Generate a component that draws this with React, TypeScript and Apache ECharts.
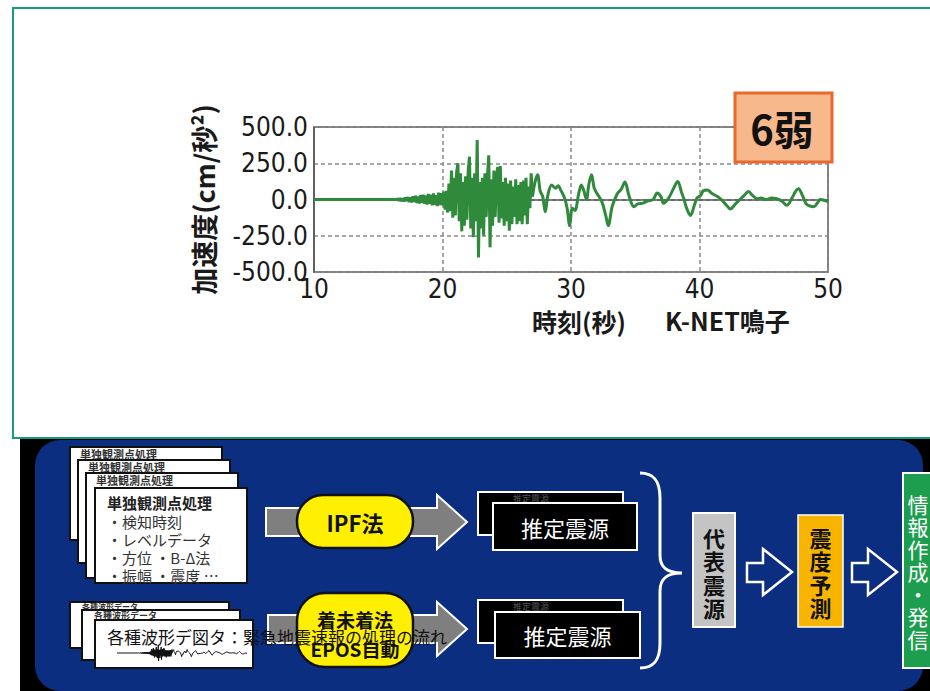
import React, { useEffect, useRef } from "react";
import * as echarts from "echarts";

// ---- data: K-NET 鳴子 acceleration record (time s, acceleration cm/s²) ----
const preEvent: [number, number][] = [
  [10, 0], [16.4, 0],
];
const pWave: [number, number][] = [
  [16.5, 5], [16.6, -8], [16.7, 10], [16.8, -12], [16.9, 9], [17.0, -14], [17.1, 15], [17.2, -11],
  [17.3, 17], [17.4, -18], [17.5, 14], [17.6, -20], [17.7, 22], [17.8, -17], [17.9, 25], [18.0, -24],
  [18.1, 20], [18.2, -28], [18.3, 30], [18.4, -22], [18.5, 33], [18.6, -30], [18.7, 27], [18.8, -35],
  [18.9, 38], [19.0, -29], [19.1, 34], [19.2, -40], [19.3, 42], [19.4, -36], [19.5, 30], [19.6, -45],
  [19.7, 48], [19.8, -38], [19.9, 44],
];
const sWave: [number, number][] = [
  [20.0, -40], [20.1, 55], [20.2, -70], [20.3, 60], [20.4, -90], [20.5, 110], [20.6, -80], [20.7, 200],
  [20.8, -125], [20.9, 150], [21.0, -110], [21.1, 190], [21.2, 250], [21.3, -150], [21.4, 180], [21.5, -220],
  [21.6, 120], [21.7, -180], [21.8, 160], [21.9, -140], [22.0, 200], [22.1, 295], [22.2, -200], [22.3, 150],
  [22.4, -260], [22.5, 180], [22.6, -150], [22.7, 410], [22.8, -400], [22.9, 120], [23.0, -200], [23.1, 150],
  [23.2, -250], [23.3, 180], [23.4, -120], [23.5, 160], [23.6, 305], [23.7, -330], [23.8, 140], [23.9, -180],
  [24.0, 200], [24.1, -120], [24.2, 160], [24.3, 225], [24.4, -160], [24.5, 230], [24.6, -130], [24.7, 120],
  [24.8, -180], [24.9, 150], [25.0, -150], [25.1, 110], [25.2, -215], [25.3, 130], [25.4, -170], [25.5, 90],
  [25.6, -120], [25.7, 140], [25.8, -170], [25.9, 100], [26.0, -150], [26.1, 120], [26.2, -170], [26.3, 130],
  [26.4, -110], [26.5, 150], [26.6, -170], [26.7, 90], [26.8, -60], [26.9, 180], [27.0, 20],
];
const coda: [number, number][] = [
  [27.2, 120], [27.4, 170], [27.6, 60], [27.8, 20], [28.0, -85], [28.2, 30], [28.5, 100], [28.8, 77],
  [29.0, 95], [29.2, 65], [29.5, 10], [29.7, -60], [29.9, -180], [30.1, -60], [30.3, -75], [30.6, 40],
  [30.8, 100], [31.0, 60], [31.2, 0], [31.4, 110], [31.6, 170], [31.8, 80], [32.0, 45], [32.4, -15],
  [32.7, -110], [32.9, -180], [33.2, -50], [33.6, 40], [33.9, 70], [34.2, 120], [34.5, 30], [34.9, -50],
  [35.2, -30], [35.6, -25], [36.0, -10], [36.4, 0], [36.7, 45], [37.0, 20], [37.2, -25], [37.6, 10],
  [38.0, 80], [38.3, 125], [38.6, 50], [38.8, 0], [39.0, -60], [39.3, -110], [39.6, -40], [39.8, 10],
  [40.1, 30], [40.3, 60], [40.6, 65], [41.0, 40], [41.4, 20], [41.8, -10], [42.1, -40], [42.4, -65],
  [42.8, -30], [43.2, 5], [43.5, 30], [43.8, 55], [44.1, 30], [44.5, 5], [44.8, 10], [45.2, 0],
  [45.6, 10], [46.0, 5], [46.4, -10], [46.8, -40], [47.2, 10], [47.5, 60], [47.7, 75], [48.0, 30],
  [48.3, -30], [48.6, -45], [48.9, -50], [49.2, -20], [49.4, 0], [49.7, -5], [50.0, -15],
];

const xRange = [10, 50];
const xStep = 10;
const yRange = [-500, 500];
const yStep = 250;

const intensity = "6弱";
const stationName = "K-NET鳴子";
const xName = "時刻(秒)";
const yName = "加速度(cm/秒²)";

const stationHeader = "単独観測点処理";
const stationItems = ["・検知時刻", "・レベルデータ", "・方位 ・B-Δ法", "・振幅 ・震度 …"];
const waveHeader = "各種波形データ";
const caption = "各種波形デ図タ：緊急地震速報の処理の流れ";

// ---- styling ----
const CJK = "'Noto Sans CJK JP', 'Noto Sans', sans-serif";
const COND = "'DejaVu Sans Condensed', 'DejaVu Sans', sans-serif";
const GREEN = "#2f8a3c";
const NAVY = "#0b2e80";

echarts.graphic.registerShape(
  "brace",
  echarts.graphic.extendPath(
    "M0,0 C14,0 20,8 20,25 L20,82 C20,94 26,100 42,100 C26,100 20,106 20,118 L20,170 C20,187 14,195 0,195",
    {}
  )
);

function txt(x: number, y: number, text: string, o: any = {}) {
  return {
    type: "text",
    x,
    y,
    z: o.z,
    style: {
      text,
      fontFamily: CJK,
      fontSize: o.size ?? 15,
      fontWeight: o.weight ?? "normal",
      fill: o.fill ?? "#111",
      align: o.align ?? "left",
      verticalAlign: "middle",
      lineHeight: o.lineHeight,
    },
  };
}

function box(x: number, y: number, w: number, h: number, fill: string, stroke: string, lw = 2, r = 0, z?: number) {
  return {
    type: "rect",
    z,
    shape: { x, y, width: w, height: h, r },
    style: { fill, stroke, lineWidth: lw },
  };
}

function buildGraphics() {
  const g: any[] = [];
  // panels
  g.push({ type: "rect", shape: { x: 13, y: 8, width: 930, height: 430 }, style: { fill: "none", stroke: "#169b7b", lineWidth: 2 } });
  g.push(box(20, 439, 910, 252, "#000", "none", 0));
  g.push(box(35, 440, 888, 251, NAVY, "none", 0, 25));

  // upper stack: station processing (back sheets only show a strip)
  const upper = [
    [70, 447, 152, 93],
    [78, 460, 152, 103],
    [86, 473, 152, 105],
  ];
  upper.forEach(([x, y, w, h]) => {
    g.push(box(x, y, w, h, "#fff", "#111", 2));
    g.push(txt(x + 10, y + 7, stationHeader, { size: 11, weight: "bold", fill: "#333" }));
  });
  g.push(box(95, 488, 152, 95, "#fff", "#111", 2));
  g.push(txt(107, 502, stationHeader, { size: 15, weight: "bold", fill: "#222" }));
  stationItems.forEach((s, i) => {
    g.push(txt(107, 521 + i * 18, s, { size: 15, fill: "#333" }));
  });

  // lower stack: waveform data
  const lower = [
    [70, 602, 159, 46, 8, 4],
    [82, 610, 158, 50, 9, 5],
  ];
  lower.forEach(([x, y, w, h, s, dy]) => {
    g.push(box(x, y, w, h, "#fff", "#111", 2));
    g.push(txt(x + 12, y + dy, waveHeader, { size: s, weight: "bold", fill: "#333" }));
  });
  g.push(box(95, 620, 158, 48, "#fff", "#111", 2));

  // gray arrows
  g.push({
    type: "polygon",
    shape: { points: [[266, 508], [437, 508], [437, 495], [467, 522], [437, 549], [437, 536], [266, 536]] },
    style: { fill: "#7f7f7f", stroke: "#fff", lineWidth: 2 },
  });
  g.push({
    type: "polygon",
    shape: { points: [[268, 615], [437, 615], [437, 602], [467, 629], [437, 656], [437, 643], [268, 643]] },
    style: { fill: "#7f7f7f", stroke: "#fff", lineWidth: 2 },
  });

  // yellow methods
  g.push(box(297, 495, 116, 53, "#ffef00", "#111", 2.5, 26));
  g.push(txt(355, 522, "IPF法", { size: 22, weight: "bold", align: "center" }));
  g.push(box(297, 593, 116, 74, "#ffef00", "#111", 2.5, 28));
  g.push(txt(355, 619, "着未着法", { size: 19, weight: "bold", align: "center" }));
  g.push(txt(355, 648, "EPOS自動", { size: 19, weight: "bold", align: "center" }));

  // estimated hypocentre boxes
  const hypo = [
    [478, 492, 145, 43, 493, 503, 144, 47],
    [478, 600, 145, 43, 495, 612, 145, 46],
  ];
  hypo.forEach(([bx, by, bw, bh, fx, fy, fw, fh]) => {
    g.push(box(bx, by, bw, bh, "#000", "#fff", 2));
    g.push(txt(bx + 35, by + 6, "推定震源", { size: 9, fill: "#555" }));
    g.push(box(fx, fy, fw, fh, "#000", "#fff", 2));
    g.push(txt(fx + fw / 2, fy + fh / 2, "推定震源", { size: 22, fill: "#fff", align: "center" }));
  });

  // brace
  g.push({ type: "brace", x: 640, y: 473, style: { fill: "none", stroke: "#fff", lineWidth: 3 } });

  // representative hypocentre
  g.push(box(693, 513, 42, 114, "#c4c4c4", "#fff", 2));
  g.push(txt(714, 572, "代\n表\n震\n源", { size: 22, weight: "bold", align: "center", lineHeight: 23.5 }));

  // hollow arrows
  [0, 105].forEach((dx) => {
    g.push({
      type: "polygon",
      shape: {
        points: [[747 + dx, 563], [763 + dx, 563], [763 + dx, 549], [792 + dx, 572], [763 + dx, 595], [763 + dx, 582], [747 + dx, 582]],
      },
      style: { fill: "none", stroke: "#fff", lineWidth: 2.5 },
    });
  });

  // intensity prediction
  g.push(box(798, 515, 45, 112, "#f7b500", "#fff", 1.5));
  g.push(txt(820.5, 572, "震\n度\n予\n測", { size: 22, weight: "bold", align: "center", lineHeight: 23.5 }));

  // information / dissemination
  g.push(box(903, 473, 40, 195, "#1d9e4f", "#fff", 2));
  g.push(txt(918, 571, "情\n報\n作\n成\n・\n発\n信", { size: 21, fill: "#fff", align: "center", lineHeight: 22.5 }));

  // intensity badge
  g.push(box(735, 93, 97, 69, "#f7b88c", "#e8692c", 3, 0, 5));
  g.push(txt(782, 128, intensity, { size: 40, weight: "bold", align: "center", z: 6 }));

  // station name
  g.push(txt(665, 320, stationName, { size: 25, weight: "bold", fill: "#1a1a1a" }));

  // caption
  g.push(txt(107, 636, caption, { size: 17, fill: "#111", z: 20 }));
  return g;
}

export default function App() {
  const ref = useRef<HTMLDivElement>(null);
  useEffect(() => {
    if (!ref.current) return;
    const chart = echarts.init(ref.current, undefined, { renderer: "svg" });
    const strong = [...preEvent, ...pWave, ...sWave];
    const tail = [sWave[sWave.length - 1], ...coda];
    const all = [...strong, ...coda];
    const axisLabelStyle = { fontFamily: COND, fontSize: 26, color: "#1a1a1a" };
    chart.setOption({
      animation: false,
      backgroundColor: "#fff",
      grid: [
        { left: 314, right: 102, top: 127, bottom: 419, show: true, borderColor: "#555", borderWidth: 1.5, backgroundColor: "transparent" },
        { left: 117, width: 130, top: 643, height: 20, show: false },
      ],
      xAxis: [
        {
          type: "value",
          gridIndex: 0,
          min: xRange[0],
          max: xRange[1],
          interval: xStep,
          name: xName,
          nameLocation: "middle",
          nameGap: 36,
          nameTextStyle: { fontFamily: CJK, fontSize: 25, fontWeight: "bold", color: "#1a1a1a", padding: [0, 0, 0, 16] },
          axisLine: { show: true, lineStyle: { color: "#555", width: 1.5 } },
          axisTick: { show: false },
          axisLabel: { ...axisLabelStyle, margin: 4 },
          splitLine: { show: true, lineStyle: { color: "#8a8a8a", type: [4, 3], width: 1.5 } },
        },
        { type: "value", gridIndex: 1, min: xRange[0], max: xRange[1], show: false },
      ],
      yAxis: [
        {
          type: "value",
          gridIndex: 0,
          min: yRange[0],
          max: yRange[1],
          interval: yStep,
          name: yName,
          nameLocation: "middle",
          nameRotate: 90,
          nameGap: 97,
          nameTextStyle: { fontFamily: CJK, fontSize: 27, fontWeight: "bold", color: "#1a1a1a" },
          axisLine: { show: true, lineStyle: { color: "#555", width: 1.5 } },
          axisTick: { show: false },
          axisLabel: { ...axisLabelStyle, margin: 6, formatter: (v: number) => v.toFixed(1) },
          splitLine: { show: true, lineStyle: { color: "#8a8a8a", type: [4, 3], width: 1.5 } },
        },
        { type: "value", gridIndex: 1, min: yRange[0], max: yRange[1], show: false },
      ],
      graphic: { elements: buildGraphics() },
      series: [
        {
          type: "line",
          name: "加速度",
          xAxisIndex: 0,
          yAxisIndex: 0,
          data: strong,
          showSymbol: false,
          smooth: false,
          lineStyle: { color: GREEN, width: 3 },
          z: 3,
        },
        {
          type: "line",
          name: "加速度（後続波）",
          xAxisIndex: 0,
          yAxisIndex: 0,
          data: tail,
          showSymbol: false,
          smooth: 0.35,
          lineStyle: { color: GREEN, width: 3 },
          z: 3,
        },
        {
          type: "line",
          name: "波形アイコン",
          xAxisIndex: 1,
          yAxisIndex: 1,
          data: all,
          showSymbol: false,
          lineStyle: { color: "#111", width: 1 },
          z: 3,
        },
      ],
    });
    return () => chart.dispose();
  }, []);
  return <div ref={ref} style={{ position: "absolute", left: 0, top: 0, width: 930, height: 691 }} />;
}
